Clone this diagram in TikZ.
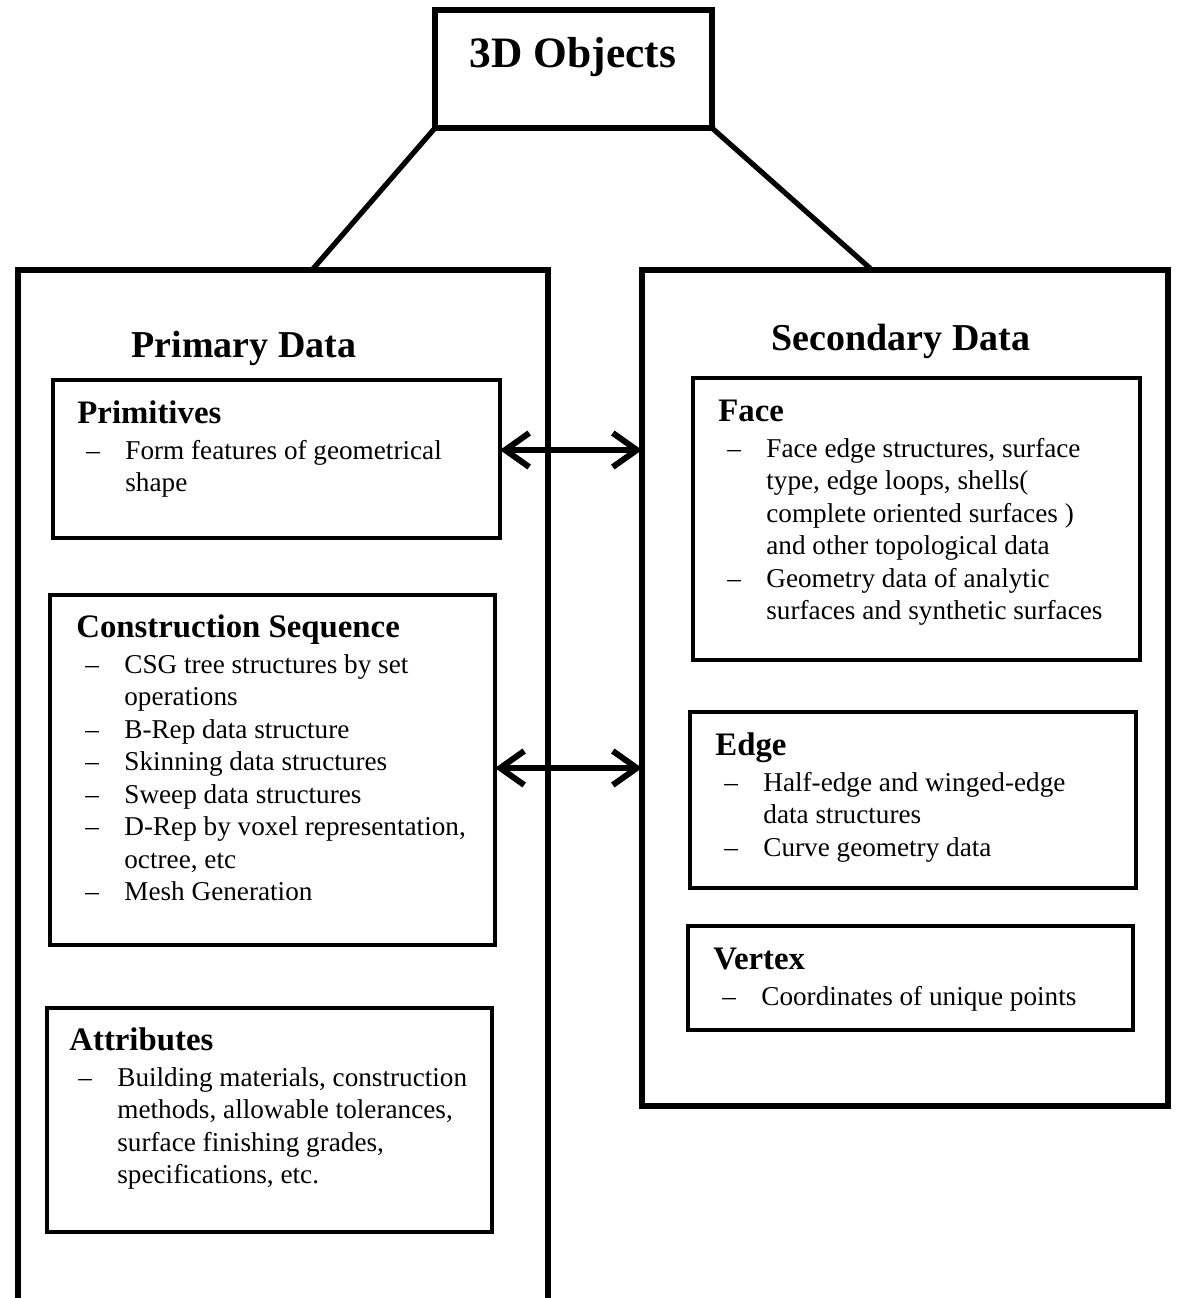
\documentclass[tikz,border=0pt]{standalone}
\usepackage{fontspec}
\setmainfont{Liberation Serif}
\usetikzlibrary{arrows.meta,calc,fit}

% type sizes
\newcommand{\bodysize}{\fontsize{13.6pt}{16.25pt}\selectfont}
\newcommand{\headsize}{\fontsize{16.4pt}{18pt}\selectfont\bfseries}
\newcommand{\panelsize}{\fontsize{19pt}{22pt}\selectfont\bfseries}
\newcommand{\titlesize}{\fontsize{21.7pt}{26pt}\selectfont\bfseries}

% heading followed by dash-led lines
\newcommand{\boxtext}[2]{%
  \bodysize
  \begin{tabular}[t]{@{\hspace{4.5pt}}p{19.5pt}@{}l@{}}
    \multicolumn{2}{@{}l@{}}{\headsize #1}\\[1.75pt]
    #2
  \end{tabular}}

\begin{document}
\begin{tikzpicture}[x=0.5pt,y=-0.5pt,
  box/.style={draw, rectangle, inner sep=0pt, outer sep=0pt},
  objbox/.style={box, line width=3.2pt},
  bigbox/.style={box, line width=2.7pt},
  subbox/.style={box, line width=2.2pt},
  link/.style={line width=2.6pt},
  biarrow/.style={line width=3pt,
    {Straight Barb[length=12pt,width=17pt]}-{Straight Barb[length=12pt,width=17pt]}},
  txt/.style={anchor=base west, inner sep=0pt, align=left}]

\useasboundingbox (0,0) rectangle (1180,1298);
\clip (0,0) rectangle (1180,1298);

% top object box
\node[objbox, fit={(435,10) (712,128)}] (obj) {};
\node[anchor=base, inner sep=0pt, font=\titlesize] (objt) at (573,67) {3D Objects};

% the two data panels (the left one runs past the lower edge)
\node[bigbox, fit={(18,270) (548,1340)}] (pd) {};
\node[bigbox, fit={(642,270) (1168,1106)}] (sd) {};
\node[anchor=base, inner sep=0pt, font=\panelsize] (pdt) at (244,357) {Primary Data};
\node[anchor=base, inner sep=0pt, font=\panelsize] (sdt) at (901,350) {Secondary Data};

% primary data boxes
\node[subbox, fit={(53,380) (500,538)}] (prim) {};
\node[txt] (primt) at (77,423) {\boxtext{Primitives}{%
  \textendash & Form features of geometrical\\
  & shape}};

\node[subbox, fit={(50,595) (495,945)}] (cons) {};
\node[txt] (const) at (76,637) {\boxtext{Construction Sequence}{%
  \textendash & CSG tree structures by set\\
  & operations\\
  \textendash & B-Rep data structure\\
  \textendash & Skinning data structures\\
  \textendash & Sweep data structures\\
  \textendash & D-Rep by voxel representation,\\
  & octree, etc\\
  \textendash & Mesh Generation}};

\node[subbox, fit={(47,1008) (492,1232)}] (attr) {};
\node[txt] (attrt) at (69,1050) {\boxtext{Attributes}{%
  \textendash & Building materials, construction\\
  & methods, allowable tolerances,\\
  & surface finishing grades,\\
  & specifications, etc.}};

% secondary data boxes
\node[subbox, fit={(693,378) (1140,660)}] (face) {};
\node[txt] (facet) at (718,421) {\boxtext{Face}{%
  \textendash & Face edge structures, surface\\
  & type, edge loops, shells(\\
  & complete oriented surfaces )\\
  & and other topological data\\
  \textendash & Geometry data of analytic\\
  & surfaces and synthetic surfaces}};

\node[subbox, fit={(690,712) (1136,888)}] (edge) {};
\node[txt] (edget) at (715,755) {\boxtext{Edge}{%
  \textendash & Half-edge and winged-edge\\
  & data structures\\
  \textendash & Curve geometry data}};

\node[subbox, fit={(688,926) (1133,1030)}] (vert) {};
\node[txt] (vertt) at (713,969) {\boxtext{Vertex}{%
  \textendash & Coordinates of unique points}};

% links from the object box to the panels
\draw[link] (obj.south west) -- ($(pd.north west)+(294,0)$);
\draw[link] (obj.south east) -- ($(sd.north west)+(230,0)$);

% two-way arrows between the panels
\coordinate (ya) at (0,450);
\coordinate (yb) at (0,768);
\draw[biarrow] (prim.east |- ya) -- (sd.west |- ya);
\draw[biarrow] (cons.east |- yb) -- (sd.west |- yb);
\end{tikzpicture}
\end{document}
